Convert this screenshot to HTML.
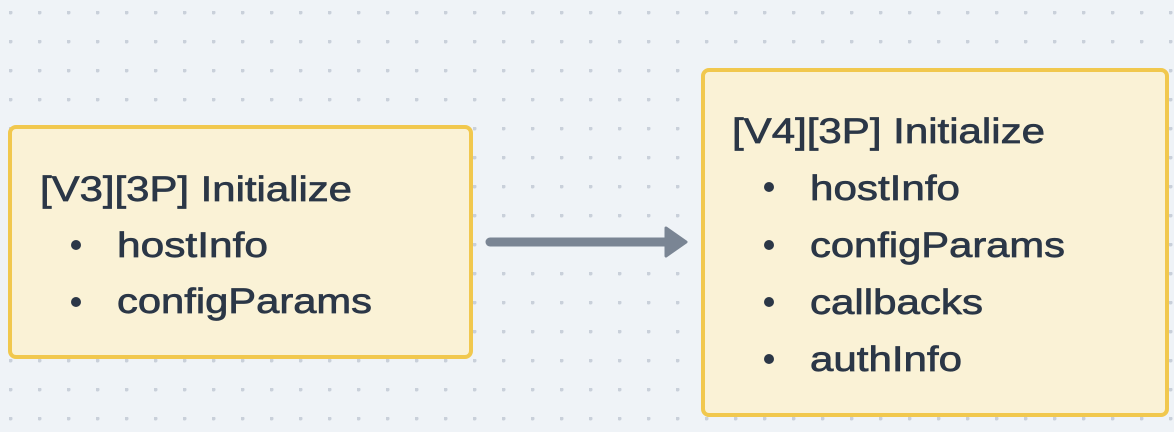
<!DOCTYPE html>
<html><head><meta charset="utf-8"><style>
html,body{margin:0;padding:0;background:#eff3f7;width:1174px;height:432px;overflow:hidden}
svg{display:block}
text{font-family:"Liberation Sans",sans-serif;font-size:35px;fill:#2b3747;stroke:#2b3747;stroke-width:0.7}
</style></head><body>
<svg width="1174" height="432">
<defs><pattern id="dots" x="9" y="11" width="29" height="29" patternUnits="userSpaceOnUse"><circle cx="1.5" cy="1.5" r="2" fill="#c9d0da"/></pattern></defs>
<rect width="1174" height="432" fill="url(#dots)"/>
<g>
<rect x="10" y="127" width="461" height="230" rx="6" fill="#faf2d6" stroke="#f1c84e" stroke-width="4"/>
<text x="40" y="201" textLength="312" lengthAdjust="spacingAndGlyphs">[V3][3P] Initialize</text>
<circle cx="76" cy="245" r="5" fill="#2b3747"/>
<text x="117" y="257" textLength="151" lengthAdjust="spacingAndGlyphs">hostInfo</text>
<circle cx="76" cy="302" r="5" fill="#2b3747"/>
<text x="117" y="313" textLength="255" lengthAdjust="spacingAndGlyphs">configParams</text>
</g>
<g>
<line x1="490" y1="242" x2="668" y2="242" stroke="#7a8594" stroke-width="9" stroke-linecap="round"/>
<path d="M666 228 L686 242 L666 256 Z" fill="#7a8594" stroke="#7a8594" stroke-width="3" stroke-linejoin="round"/>
</g>
<g>
<rect x="703" y="70" width="464" height="345" rx="6" fill="#faf2d6" stroke="#f1c84e" stroke-width="4"/>
<text x="732" y="143" textLength="313" lengthAdjust="spacingAndGlyphs">[V4][3P] Initialize</text>
<circle cx="769" cy="187" r="5" fill="#2b3747"/>
<text x="810" y="200" textLength="150" lengthAdjust="spacingAndGlyphs">hostInfo</text>
<circle cx="769" cy="245" r="5" fill="#2b3747"/>
<text x="810" y="257" textLength="255" lengthAdjust="spacingAndGlyphs">configParams</text>
<circle cx="769" cy="302" r="5" fill="#2b3747"/>
<text x="810" y="314" textLength="173" lengthAdjust="spacingAndGlyphs">callbacks</text>
<circle cx="769" cy="359" r="5" fill="#2b3747"/>
<text x="810" y="371" textLength="152" lengthAdjust="spacingAndGlyphs">authInfo</text>
</g>
</svg>
</body></html>
